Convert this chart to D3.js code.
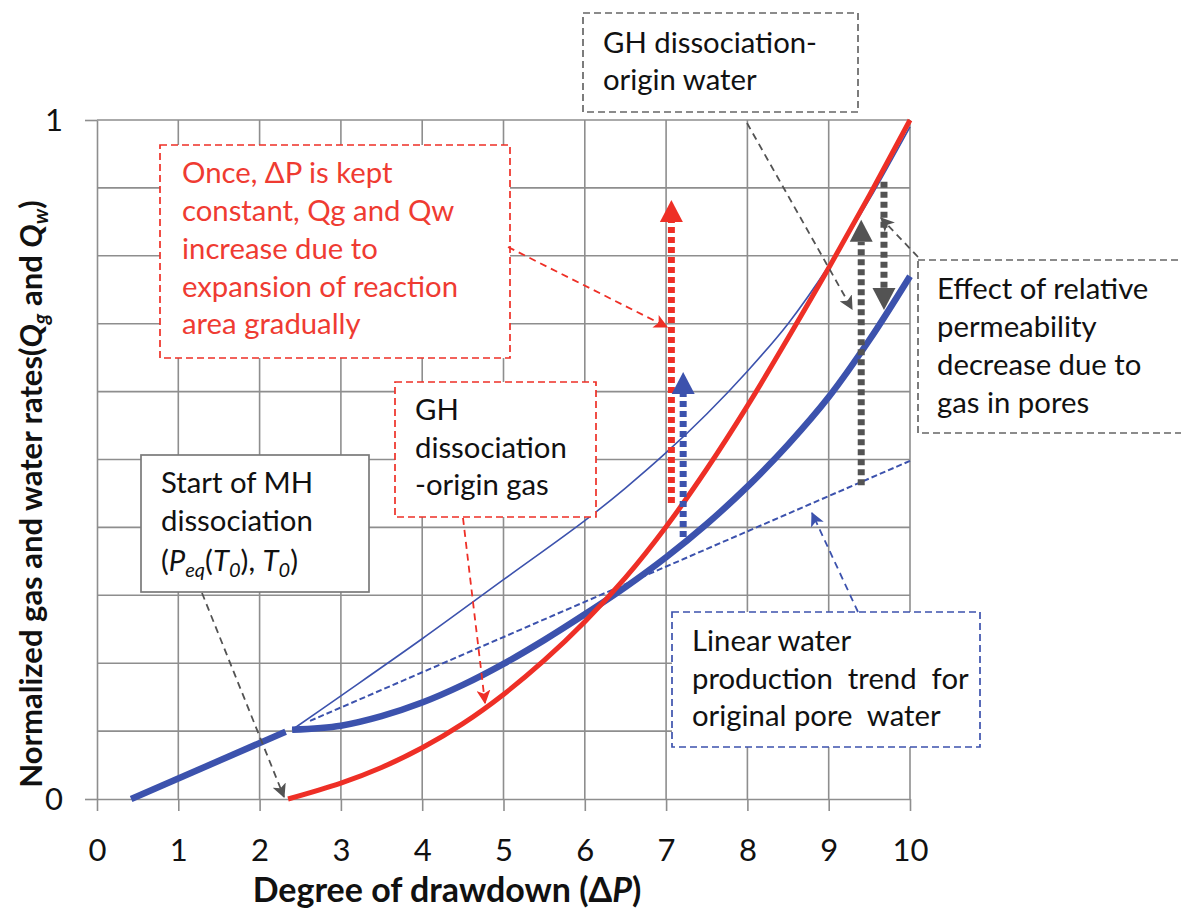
<!DOCTYPE html>
<html><head><meta charset="utf-8">
<script src="https://cdn.jsdelivr.net/npm/d3@7"></script>
<style>
body{margin:0;background:#fff}
svg{display:block}
text{font-family:Lato,"Open Sans",sans-serif}
</style>
</head><body>
<svg id="c" width="1181" height="909"></svg>
<script>
// ---------------- data ----------------
const xTicks = [0, 1, 2, 3, 4, 5, 6, 7, 8, 9, 10];
const yTicks = [0, 1];
const yGrid = [0.1, 0.2, 0.3, 0.4, 0.5, 0.6, 0.7, 0.8, 0.9, 1.0];

// water production before dissociation (thick blue straight part)
const waterLinX = [0.42, 2.32];
const waterLinY = [0, 0.099];
// linear water production trend for original pore water (dashed blue)
const trendX = [2.62, 10];
const trendY = [0.115, 0.498];
// Qw with relative permeability decrease (thick blue)
const qwX = [2.4, 3, 3.5, 4, 4.5, 5, 5.5, 6, 6.5, 7, 7.5, 8, 8.5, 9, 9.5, 10];
const qwY = [0.102, 0.108, 0.122, 0.142, 0.168, 0.199, 0.234, 0.272, 0.312, 0.356, 0.405, 0.46, 0.522, 0.592, 0.676, 0.77];
// Qw without permeability decrease (thin blue)
const qtX = [2.4, 3, 4, 5, 6, 6.5, 7, 7.5, 8, 8.5, 9, 9.5, 10];
const qtY = [0.102, 0.152, 0.236, 0.323, 0.41, 0.458, 0.51, 0.567, 0.63, 0.70, 0.785, 0.883, 0.99];
// Qg (red)
const qgX = [2.35, 3, 3.5, 4, 4.5, 5, 5.5, 6, 6.5, 7, 7.5, 8, 8.5, 9, 9.5, 10];
const qgY = [0, 0.0234, 0.0464, 0.0754, 0.111, 0.154, 0.204, 0.261, 0.326, 0.401, 0.486, 0.579, 0.679, 0.782, 0.889, 1.0];

// vertical dotted arrows: x position, start value, tip value
const vArrowX  = [7.065, 7.21, 9.40, 9.68];
const vArrowY0 = [0.436, 0.386, 0.462, 0.909];
const vArrowY1 = [0.882, 0.629, 0.853, 0.72];
const vArrowKind = ["red", "blue", "gray", "gray"];

// ---------------- drawing ----------------
const RED = "#ee2f26", BLUE = "#3c52ad", GRAY = "#535353", GRID = "#8e8e8e";
const svg = d3.select("#c");
const x = d3.scaleLinear().domain([0, 10]).range([97, 910]);
const y = d3.scaleLinear().domain([0, 1]).range([799, 120]);

// markers
const defs = svg.append("defs");
[["red", RED], ["blue", BLUE], ["gray", GRAY]].forEach(([k, c]) => {
  defs.append("marker").attr("id", "m-" + k)
    .attr("markerUnits", "userSpaceOnUse")
    .attr("viewBox", "0 0 12 12").attr("refX", 11).attr("refY", 6)
    .attr("markerWidth", 14).attr("markerHeight", 14).attr("orient", "auto")
    .append("path").attr("d", "M0,0 L12,6 L0,12 L3,6 Z").attr("fill", c);
});
const colorOf = {red: RED, blue: BLUE, gray: GRAY};

// grid
const g = svg.append("g");
g.selectAll("line.h").data(yGrid).join("line").attr("class", "h")
  .attr("x1", x(0)).attr("x2", x(10)).attr("y1", d => y(d)).attr("y2", d => y(d))
  .attr("stroke", GRID).attr("stroke-width", 1.6);
g.selectAll("line.v").data(xTicks.slice(1)).join("line").attr("class", "v")
  .attr("x1", d => x(d)).attr("x2", d => x(d)).attr("y1", y(1)).attr("y2", y(0))
  .attr("stroke", GRID).attr("stroke-width", 1.6);

// axes
const xAxis = svg.append("g").attr("transform", `translate(0,${y(0)})`)
  .call(d3.axisBottom(x).tickValues(xTicks).tickFormat(d3.format("d")).tickSize(12).tickSizeOuter(0).tickPadding(0));
const yAxis = svg.append("g").attr("transform", `translate(${x(0)},0)`)
  .call(d3.axisLeft(y).tickValues(yTicks).tickFormat(d3.format("d")).tickSize(12).tickSizeOuter(0).tickPadding(0));
[xAxis, yAxis].forEach(a => {
  a.select(".domain").attr("stroke", GRID).attr("stroke-width", 1.6);
  a.selectAll(".tick line").attr("stroke", GRID).attr("stroke-width", 1.6);
  a.selectAll(".tick text").attr("fill", "#111").style("font-family", "Lato")
    .attr("font-size", 31);
});
xAxis.selectAll(".tick text").attr("y", 51).attr("dy", "0.35em");
yAxis.selectAll(".tick text").attr("x", -34).attr("dy", "0.35em");

// axis titles
const xt = svg.append("text").attr("x", 447).attr("y", 902).attr("text-anchor", "middle")
  .attr("font-size", 34).attr("font-weight", 700).attr("fill", "#111");
xt.append("tspan").text("Degree of drawdown (\u0394");
xt.append("tspan").attr("font-style", "italic").text("P");
xt.append("tspan").text(")");

const yt = svg.append("text").attr("transform", "translate(42,494) rotate(-90)")
  .attr("text-anchor", "middle").attr("font-size", 31).attr("font-weight", 700).attr("fill", "#111");
yt.append("tspan").text("Normalized gas and water rates(");
yt.append("tspan").attr("font-style", "italic").text("Q");
yt.append("tspan").attr("font-style", "italic").attr("font-size", 21).attr("dy", 6).text("g");
yt.append("tspan").attr("dy", -6).text(" and ");
yt.append("tspan").attr("font-style", "italic").text("Q");
yt.append("tspan").attr("font-style", "italic").attr("font-size", 21).attr("dy", 6).text("w");
yt.append("tspan").attr("dy", -6).text(")");

// curves
const line = d3.line().x(d => x(d[0])).y(d => y(d[1])).curve(d3.curveCatmullRom.alpha(0.5));
const plot = svg.append("g").attr("fill", "none");
plot.append("path").attr("d", line(d3.zip(qtX, qtY))).attr("stroke", BLUE).attr("stroke-width", 1.6);
plot.append("path").attr("d", line(d3.zip(trendX, trendY))).attr("stroke", BLUE)
  .attr("stroke-width", 2).attr("stroke-dasharray", "6,3");
plot.append("path").attr("d", line(d3.zip(waterLinX, waterLinY))).attr("stroke", BLUE).attr("stroke-width", 6.5);
plot.append("path").attr("d", line(d3.zip(qwX, qwY))).attr("stroke", BLUE).attr("stroke-width", 6.5);
plot.append("path").attr("d", line(d3.zip(qgX, qgY))).attr("stroke", RED).attr("stroke-width", 5);

// vertical dotted arrows
vArrowX.forEach((vx, i) => {
  const c = colorOf[vArrowKind[i]];
  const px = x(vx), p0 = y(vArrowY0[i]), p1 = y(vArrowY1[i]);
  const dir = p1 < p0 ? 1 : -1; // 1: pointing up
  const headH = 22, headW = 23;
  const base = p1 + dir * headH;
  plot.append("line").attr("x1", px).attr("x2", px).attr("y1", p0).attr("y2", base)
    .attr("stroke", c).attr("stroke-width", 7).attr("stroke-dasharray", "6,4");
  plot.append("path")
    .attr("d", `M${px},${p1} L${px - headW / 2},${base} L${px + headW / 2},${base} Z`)
    .attr("fill", c);
});

// annotation boxes
function box(x0, y0, x1, y1, stroke, dash) {
  svg.append("rect").attr("x", x0).attr("y", y0).attr("width", x1 - x0).attr("height", y1 - y0)
    .attr("fill", "#fff").attr("stroke", stroke).attr("stroke-width", 1.7)
    .attr("stroke-dasharray", dash ? "7,4" : null);
}
function lines(tx, baselines, rows, color) {
  rows.forEach((r, i) => {
    const t = svg.append("text").attr("x", tx).attr("y", baselines[i])
      .attr("font-size", 29.3).attr("fill", color).attr("xml:space", "preserve");
    (Array.isArray(r) ? r : [[r]]).forEach(seg => {
      const s = t.append("tspan").text(seg[0]);
      if (seg[1] === "i") s.attr("font-style", "italic");
      if (seg[1] === "sub") s.attr("font-style", "italic").attr("font-size", 20).attr("dy", 6);
      if (seg[2]) s.attr("dy", seg[2]);
    });
  });
}
function arrow(x0, y0, x1, y1, kind) {
  svg.append("line").attr("x1", x0).attr("y1", y0).attr("x2", x1).attr("y2", y1)
    .attr("stroke", colorOf[kind]).attr("stroke-width", 1.8).attr("stroke-dasharray", "7,5")
    .attr("marker-end", `url(#m-${kind})`);
}

// red box
box(160, 145, 510, 358, RED, true);
lines(182, [183, 221, 258.5, 296.5, 334],
  ["Once, \u0394P is kept", "constant, Qg and Qw", "increase due to", "expansion of reaction", "area gradually"], "#ef3b32");
// GH water box
box(583, 13, 858, 112, "#666", true);
lines(603, [52.5, 90], ["GH dissociation-", "origin water"], "#111");
// Effect box
box(918, 260, 1200, 433, "#666", true);
lines(937, [299, 337, 375, 413], ["Effect of relative", "permeability", "decrease due to", "gas in pores"], "#111");
// GH gas box
box(395, 382, 596, 517, RED, true);
lines(415, [420, 458, 495], ["GH", "dissociation", "-origin gas"], "#111");
// Start box
box(141, 455, 369, 592, "#7a7a7a", false);
lines(161, [492.5, 530.5, 570.5], ["Start of MH", "dissociation",
  [["("], ["P", "i"], ["eq", "sub"], ["(", null, -6], ["T", "i"], ["0", "sub"], [")", null, -6], [", "], ["T", "i"], ["0", "sub"], [")", null, -6]]], "#111");
// Linear box
box(672, 612, 980, 747, BLUE, true);
lines(692, [650.5, 688.5, 725.5], ["Linear water", "production  trend  for", "original pore  water"], "#111");

// leader arrows
arrow(202, 593, 284, 797, "gray");
arrow(463, 518, 485, 703, "red");
arrow(508, 247, 667, 327, "red");
arrow(747, 123, 852, 309, "gray");
arrow(918, 257, 881, 218, "gray");
arrow(858, 612, 812, 513, "blue");
</script>
</body></html>
